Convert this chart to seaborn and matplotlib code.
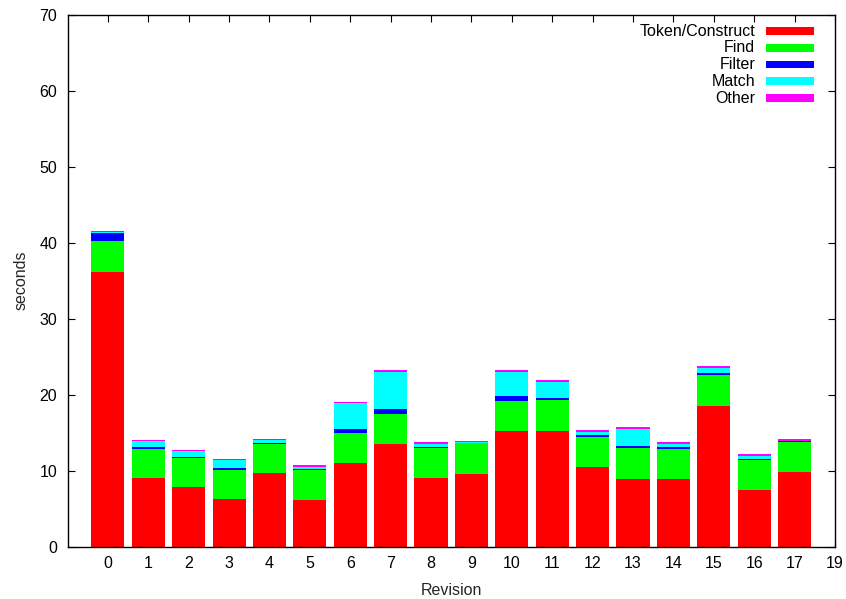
import matplotlib
matplotlib.use("Agg")
import matplotlib.pyplot as plt
from matplotlib.patches import Rectangle
import seaborn as sns
import numpy as np
import pandas as pd

revisions = [str(i) for i in range(18)]
token_construct = [36.2, 9.1, 7.8, 6.27, 9.65, 6.18, 11.0, 13.46, 9.08, 9.6, 15.22, 15.26, 10.48, 8.9, 8.9, 18.55, 7.41, 9.78]
find = [4.05, 3.8, 3.9, 3.86, 3.9, 3.86, 4.0, 4.04, 3.95, 4.0, 4.0, 4.04, 3.95, 4.04, 4.0, 4.08, 4.0, 4.04]
filter_ = [1.05, 0.2, 0.15, 0.27, 0.13, 0.22, 0.48, 0.66, 0.13, 0.05, 0.6, 0.26, 0.22, 0.3, 0.17, 0.27, 0.14, 0.1]
match = [0.1, 0.75, 0.75, 1.0, 0.3, 0.22, 3.38, 4.82, 0.4, 0.15, 3.12, 2.15, 0.44, 2.24, 0.48, 0.6, 0.43, 0.02]
other = [0.2, 0.15, 0.17, 0.18, 0.2, 0.27, 0.17, 0.27, 0.22, 0.15, 0.3, 0.22, 0.2, 0.22, 0.22, 0.27, 0.22, 0.18]

series_names = ["Token/Construct", "Find", "Filter", "Match", "Other"]
series_values = [token_construct, find, filter_, match, other]
series_colors = ["#ff0000", "#00ff00", "#0000ff", "#00ffff", "#ff00ff"]

xtick_positions = list(range(19))
xtick_labels = [str(i) for i in range(18)] + ["19"]

sns.set_style("ticks")
plt.rcParams["font.family"] = ["Liberation Sans", "DejaVu Sans"]
FS = 11.5

fig = plt.figure(figsize=(8.46, 5.99), dpi=100)
ax = fig.add_axes([67.5 / 846, 1 - 546.7 / 599, (835 - 67.5) / 846, (546.7 - 14.7) / 599])

bottom = np.zeros(len(revisions))
for name, vals, col in zip(series_names, series_values, series_colors):
    df = pd.DataFrame({"Revision": revisions, "seconds": vals})
    sns.barplot(data=df, x="Revision", y="seconds", order=revisions, color=col,
                width=0.82, bottom=bottom.copy(), errorbar=None, ax=ax,
                linewidth=0, saturation=1)
    bottom += np.array(vals)

ax.set_xlim(-1, 18)
ax.set_ylim(0, 70)
ax.set_yticks(range(0, 71, 10))
ax.set_xticks(xtick_positions)
ax.set_xticklabels(xtick_labels)
ax.tick_params(axis="both", direction="in", top=True, right=True, length=5, width=0.8,
               labelsize=FS, colors="black", pad=7.5)
ax.tick_params(axis="x", pad=6.5)
for s in ax.spines.values():
    s.set_visible(True)
    s.set_linewidth(1.0)
    s.set_color("black")
ax.set_xlabel("Revision", fontsize=FS, labelpad=8.5)
ax.set_ylabel("seconds", fontsize=FS, labelpad=8)

# legend drawn gnuplot-style: right-aligned text followed by a colour sample
text_right = 0.8958
handle_x0 = 0.9101
handle_w = 0.0626
handle_h = 0.0145
row0 = 0.9690
row_step = 0.0314
for i, (name, col) in enumerate(zip(series_names, series_colors)):
    yc = row0 - i * row_step
    ax.text(text_right, yc, name, transform=ax.transAxes, ha="right", va="center",
            fontsize=FS, color="black")
    ax.add_patch(Rectangle((handle_x0, yc - handle_h / 2), handle_w, handle_h,
                           transform=ax.transAxes, facecolor=col, edgecolor="none",
                           clip_on=False))

fig.savefig("out.png", dpi=100)
